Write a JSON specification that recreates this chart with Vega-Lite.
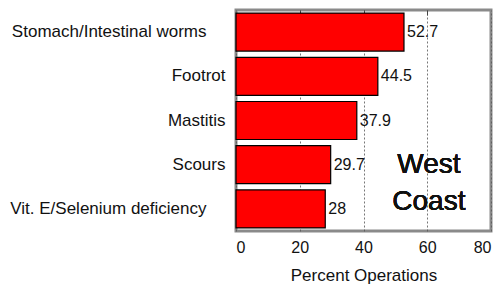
{
  "$schema": "https://vega.github.io/schema/vega-lite/v6.json",
  "width": 255,
  "height": 221,
  "autosize": {"type": "none"},
  "padding": {"left": 236, "top": 10, "right": 12, "bottom": 55},
  "background": "white",
  "config": {
    "font": "Liberation Sans",
    "view": {"stroke": "#8a8a8a", "strokeWidth": 3},
    "axis": {"labelColor": "#111", "titleColor": "#111"}
  },
  "data": {
    "values": [
      {"problem": "Stomach/Intestinal worms", "percent": 52.7},
      {"problem": "Footrot", "percent": 44.5},
      {"problem": "Mastitis", "percent": 37.9},
      {"problem": "Scours", "percent": 29.7},
      {"problem": "Vit. E/Selenium deficiency", "percent": 28}
    ]
  },
  "encoding": {
    "y": {
      "field": "problem",
      "type": "nominal",
      "sort": null,
      "scale": {"paddingInner": 0.14, "paddingOuter": 0.07},
      "axis": {
        "title": null,
        "ticks": false,
        "domain": false,
        "labelFontSize": 17,
        "labelPadding": {"condition": {"test": "length(datum.label) > 20", "value": 30}, "value": 11},
        "labelLimit": 300
      }
    }
  },
  "resolve": {"axis": {"x": "independent"}},
  "layer": [
    {
      "mark": {"type": "bar", "color": "#ff0000", "stroke": "black", "strokeWidth": 1.2},
      "encoding": {
        "x": {
          "field": "percent",
          "type": "quantitative",
          "scale": {"domain": [0, 80], "nice": false},
          "axis": {
            "values": [0, 20, 40, 60, 80],
            "title": "Percent Operations",
            "titleFontSize": 17,
            "titleFontWeight": "normal",
            "titlePadding": 12,
            "labelFontSize": 16,
            "labelPadding": 8,
            "ticks": false,
            "domain": false,
            "grid": true,
            "gridDash": [2, 2],
            "gridColor": "#555",
            "gridOpacity": 0.8
          }
        }
      }
    },
    {
      "mark": {"type": "text", "align": "left", "baseline": "middle", "dx": 3, "fontSize": 16, "color": "#111"},
      "encoding": {
        "x": {
          "field": "percent",
          "type": "quantitative",
          "axis": {
            "orient": "top",
            "values": [20, 40, 60],
            "labels": false,
            "domain": false,
            "grid": false,
            "title": null,
            "ticks": true,
            "tickSize": -5,
            "tickColor": "#444"
          }
        },
        "text": {"field": "percent", "type": "quantitative"}
      }
    },
    {
      "mark": {"type": "text", "align": "center", "baseline": "middle", "fontSize": 28, "color": "#111"},
      "encoding": {
        "x": {"datum": 60.5, "type": "quantitative", "axis": null},
        "y": {"datum": "Scours", "type": "nominal"},
        "text": {"value": "West"}
      }
    },
    {
      "mark": {"type": "text", "align": "center", "baseline": "middle", "fontSize": 28, "dy": -7, "color": "#111"},
      "encoding": {
        "x": {"datum": 60.5, "type": "quantitative", "axis": null},
        "y": {"datum": "Vit. E/Selenium deficiency", "type": "nominal"},
        "text": {"value": "Coast"}
      }
    }
  ]
}
